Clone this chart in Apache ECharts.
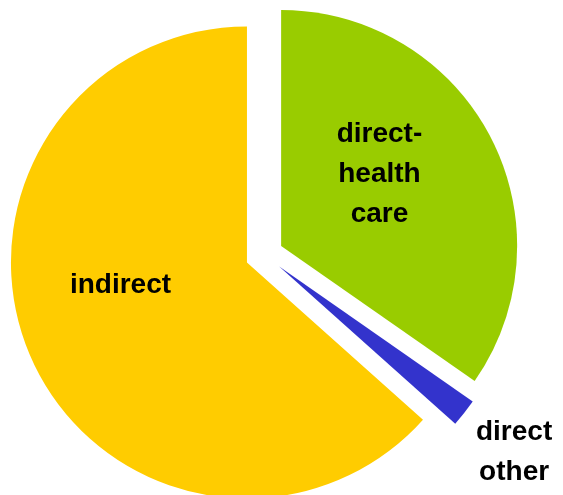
<!DOCTYPE html>
<html>
<head>
<meta charset="utf-8">
<script src="https://cdn.jsdelivr.net/npm/echarts@6/dist/echarts.min.js"></script>
<style>
  html, body { margin: 0; padding: 0; background: #ffffff; }
  #chart { width: 563px; height: 495px; }
</style>
</head>
<body>
<div id="chart"></div>
<script>
// Cost breakdown shares (%)
var categories = ['direct-\nhealth\ncare', 'direct\nother', 'indirect'];
var shares = [34.7, 1.9, 63.4];
var sliceColors = ['#99CC00', '#3333CC', '#FFCC00'];

// Nudges for label placement (px), per slice
var labelShift = [[-9, -16], [140, 111], [-16, -27]];

var chart = echarts.init(document.getElementById('chart'), null, { renderer: 'canvas' });

var seriesData = categories.map(function (name, i) {
  return {
    name: name,
    value: shares[i],
    selected: true,
    itemStyle: { color: sliceColors[i] }
  };
});

chart.setOption({
  animation: false,
  series: [{
    type: 'pie',
    center: [264.3, 254.7],
    radius: [0, 236],
    startAngle: 90,
    clockwise: true,
    selectedMode: 'multiple',
    selectedOffset: 19,
    avoidLabelOverlap: false,
    silent: true,
    itemStyle: { borderWidth: 0 },
    label: {
      show: true,
      position: 'inside',
      color: '#000000',
      fontFamily: 'Liberation Sans, Arial, sans-serif',
      fontWeight: 'bold',
      fontSize: 28,
      lineHeight: 40,
      align: 'center',
      verticalAlign: 'middle',
      formatter: '{b}'
    },
    labelLine: { show: false },
    emphasis: { disabled: true },
    select: { itemStyle: { borderWidth: 0 }, label: { color: '#000000' } },
    labelLayout: function (params) {
      var s = labelShift[params.dataIndex];
      return { dx: s[0], dy: s[1] };
    },
    data: seriesData
  }]
});
</script>
</body>
</html>
